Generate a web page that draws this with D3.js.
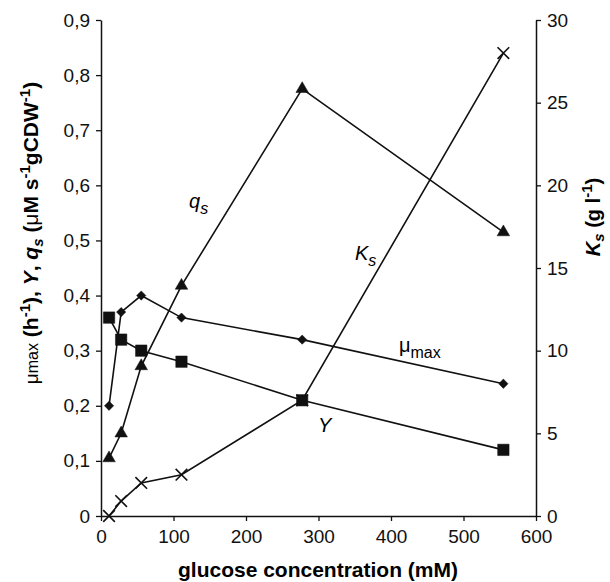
<!DOCTYPE html>
<html>
<head>
<meta charset="utf-8">
<script src="https://cdn.jsdelivr.net/npm/d3@7"></script>
<style>
  body { margin: 0; background: #fff; }
  svg { font-family: "Liberation Sans", Arial, sans-serif; }
</style>
</head>
<body>
<svg id="chart"></svg>
<script>
// glucose concentrations (mM)
const glucose = [11.1, 27.8, 55.5, 111, 277.5, 555]
// left axis series
const muMax = [0.20, 0.37, 0.40, 0.36, 0.32, 0.24]
const yieldY = [0.36, 0.32, 0.30, 0.28, 0.21, 0.12]
const qs = [0.105, 0.15, 0.272, 0.418, 0.775, 0.515]
// right axis series (g/l)
const ks = [0, 0.9, 2.0, 2.5, 7.0, 28.0]

const leftTicks = [0, 0.1, 0.2, 0.3, 0.4, 0.5, 0.6, 0.7, 0.8, 0.9]
const rightTicks = [0, 5, 10, 15, 20, 25, 30]
const xTicks = [0, 100, 200, 300, 400, 500, 600]

const width = 610, height = 582
const margin = { top: 20, right: 74, bottom: 66, left: 101 }

const svg = d3.select("#chart").attr("width", width).attr("height", height)

const x = d3.scaleLinear().domain([0, 600]).range([margin.left, width - margin.right])
const yL = d3.scaleLinear().domain([0, 0.9]).range([height - margin.bottom, margin.top])
const yR = d3.scaleLinear().domain([0, 30]).range([height - margin.bottom, margin.top])

const fmt = d => d3.format(".1f")(d).replace(".", ",")
const tickFont = "19px"

// axes
const gx = svg.append("g")
  .attr("transform", `translate(0 ${height - margin.bottom})`)
  .call(d3.axisBottom(x).tickValues(xTicks).tickSize(5).tickPadding(9).tickSizeOuter(0))
const gl = svg.append("g")
  .attr("transform", `translate(${margin.left} 0)`)
  .call(d3.axisLeft(yL).tickValues(leftTicks).tickFormat(d => d === 0 ? "0" : fmt(d)).tickSize(5).tickPadding(6).tickSizeOuter(0))
const gr = svg.append("g")
  .attr("transform", `translate(${width - margin.right} 0)`)
  .call(d3.axisRight(yR).tickValues(rightTicks).tickSize(5).tickPadding(6).tickSizeOuter(0))

;[gx, gl, gr].forEach(g => {
  g.attr("font-family", null)
  g.selectAll("text").style("font-size", tickFont).attr("fill", "#111")
  g.selectAll("line").attr("stroke", "#111").attr("stroke-width", 1.3)
  g.select(".domain").attr("stroke", "#111").attr("stroke-width", 1.5)
})

// lines
const line = ys => d3.line().x((d, i) => x(glucose[i])).y(d => ys(d))
const series = [
  { vals: muMax, scale: yL, mark: "diamond" },
  { vals: yieldY, scale: yL, mark: "square" },
  { vals: qs, scale: yL, mark: "triangle" },
  { vals: ks, scale: yR, mark: "cross" }
]

series.forEach(s => {
  svg.append("path")
    .datum(s.vals)
    .attr("d", line(s.scale))
    .attr("fill", "none")
    .attr("stroke", "#111")
    .attr("stroke-width", 1.6)
})

const shapes = {
  diamond: d3.symbol().type(d3.symbolDiamond2).size(55),
  square: d3.symbol().type(d3.symbolSquare).size(130),
  triangle: d3.symbol().type(d3.symbolTriangle).size(68),
  cross: d3.symbol().type(d3.symbolX).size(90)
}

series.forEach(s => {
  svg.append("g").selectAll("path")
    .data(s.vals)
    .join("path")
    .attr("transform", (d, i) => `translate(${x(glucose[i])} ${s.scale(d)})`)
    .attr("d", shapes[s.mark])
    .attr("fill", s.mark === "cross" ? "none" : "#111")
    .attr("stroke", "#111")
    .attr("stroke-width", s.mark === "cross" ? 1.6 : 0.5)
})

// series labels
function subLabel(px, py, main, sub, italic) {
  const t = svg.append("text").attr("x", px).attr("y", py).style("font-size", "20px")
  t.append("tspan").text(main).style("font-style", italic ? "italic" : "normal")
  t.append("tspan").text(sub).attr("dy", 6).style("font-size", "16px").style("font-style", italic ? "italic" : "normal")
}
subLabel(189, 208, "q", "s", true)
subLabel(355, 260, "K", "s", true)
subLabel(399, 352, "\u03bc", "max", false)
svg.append("text").attr("x", 318).attr("y", 432).text("Y").style("font-size", "20px").style("font-style", "italic")

// x title
svg.append("text")
  .attr("x", 318)
  .attr("y", 577)
  .attr("text-anchor", "middle")
  .style("font-size", "21px")
  .style("font-weight", "bold")
  .text("glucose concentration (mM)")

// left title
const lt = svg.append("text")
  .attr("transform", "translate(38 233) rotate(-90)")
  .attr("text-anchor", "middle")
  .style("font-size", "21px")
  .style("font-weight", "bold")
const parts = [
  { t: "\u03bc", w: "normal", s: 19 },
  { t: "max", w: "normal", s: 16 },
  { t: " (h" },
  { t: "-1", sup: true },
  { t: "), " },
  { t: "Y", i: true },
  { t: ", " },
  { t: "q", i: true },
  { t: "s", i: true, sub: true },
  { t: " (" },
  { t: "\u03bc", w: "normal" },
  { t: "M s" },
  { t: "-1", sup: true },
  { t: "gCDW" },
  { t: "-1", sup: true },
  { t: ")" }
]
let shift = 0
parts.forEach(p => {
  const target = p.sup ? -8 : p.sub ? 5 : 0
  const ts = lt.append("tspan").text(p.t).attr("dy", target - shift)
  shift = target
  if (p.w) ts.style("font-weight", p.w)
  if (p.s) ts.style("font-size", p.s + "px")
  if (p.sup || p.sub) ts.style("font-size", "15px")
  if (p.i) ts.style("font-style", "italic")
})

// right title
const rt = svg.append("text")
  .attr("transform", "translate(600 217) rotate(-90)")
  .attr("text-anchor", "middle")
  .style("font-size", "20px")
  .style("font-weight", "bold")
rt.append("tspan").text("K").style("font-style", "italic")
rt.append("tspan").text("s").style("font-style", "italic").style("font-size", "15px").attr("dy", 4)
rt.append("tspan").text(" (g l").attr("dy", -4)
rt.append("tspan").text("-1").style("font-size", "15px").attr("dy", -8)
rt.append("tspan").text(")").attr("dy", 8)
</script>
</body>
</html>
